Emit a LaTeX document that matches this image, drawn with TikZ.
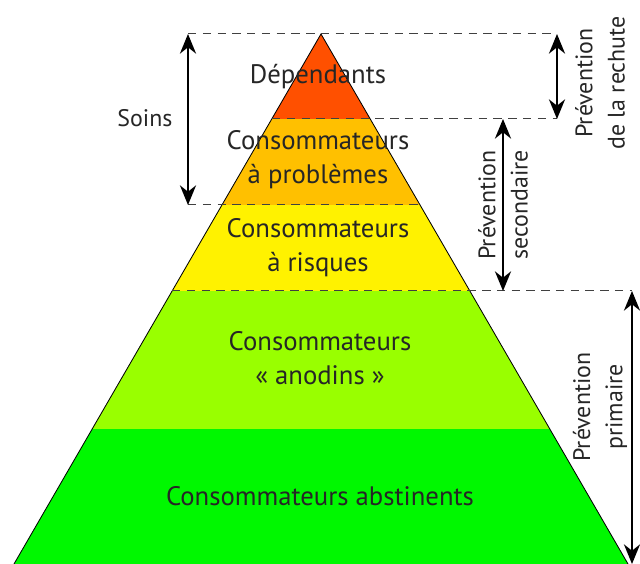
\documentclass[tikz,border=0pt]{standalone}
\usepackage{fontspec}
\setmainfont{PT Sans}
\usetikzlibrary{arrows.meta}
\definecolor{dependants}{HTML}{FF5000}
\definecolor{problemes}{HTML}{FFC000}
\definecolor{risques}{HTML}{FFF200}
\definecolor{anodins}{HTML}{99FF00}
\definecolor{abstinents}{HTML}{00F800}
\begin{document}
\begin{tikzpicture}[x=0.025cm, y=0.025cm,
    sep/.style={dash pattern=on 6pt off 4.5pt, line width=0.7pt, black!75},
    span/.style={{Stealth[length=14pt,width=11.5pt]}-{Stealth[length=14pt,width=11.5pt]}, line width=1.3pt},
    layer/.style={font=\fontsize{19}{24}\selectfont, align=center, text=black!85},
    side/.style={font=\fontsize{17}{23}\selectfont, align=center, rotate=90, text=black!85}]
    \useasboundingbox (0,0) rectangle (640,564);

    % pyramide
    \coordinate (sommet) at (321,530);
    \coordinate (baseG) at (14,0);
    \coordinate (baseD) at (628,0);
    \begin{scope}
        \clip (sommet) -- (baseD) -- (baseG) -- cycle;
        \fill[abstinents] (0,0) rectangle (640,135);
        \fill[anodins] (0,135) rectangle (640,273);
        \fill[risques] (0,273) rectangle (640,359);
        \fill[problemes] (0,359) rectangle (640,445);
        \fill[dependants] (0,445) rectangle (640,540);
    \end{scope}
    \draw[line width=0.6pt] (baseG) -- (sommet) -- (baseD);

    % niveaux
    \node[layer] (dep) at (318,487) {Dépendants};
    \node[layer] (pb) at (318,404) {Consommateurs\\à problèmes};
    \node[layer] (risq) at (318,316) {Consommateurs\\à risques};
    \node[layer] (anod) at (320,206) {Consommateurs\\«~anodins~»};
    \node[layer] (abst) at (320,68) {Consommateurs abstinents};

    % limites
    \coordinate (l1g) at (188,530); \coordinate (l1d) at (557,530);
    \coordinate (l2g) at (272,445); \coordinate (l2d) at (557,445);
    \coordinate (l2s) at (503,445);
    \coordinate (l3g) at (188,359); \coordinate (l3d) at (420,359);
    \coordinate (l4g) at (172,273); \coordinate (l4d) at (632,273);
    \coordinate (l4s) at (503,273);
    \coordinate (bas) at (632,0);
    \draw[sep] (l1g) -- (l1d);
    \draw[sep] (l2g) -- (l2d);
    \draw[sep] (l3g) -- (l3d);
    \draw[sep] (l4g) -- (l4d);

    % fleches
    \draw[span] (l1g) -- (l3g);
    \draw[span] (l1d) -- (l2d);
    \draw[span] (l2s) -- (l4s);
    \draw[span] (l4d) -- (bas);

    \node[layer, font=\fontsize{17}{23}\selectfont] (soins) at (145,446) {Soins};
    \node[side] (rechute) at (600,481) {Prévention\\de la rechute};
    \node[side] (second) at (503,359) {Prévention\\secondaire};
    \node[side] (prim) at (600,157) {Prévention\\primaire};
\end{tikzpicture}
\end{document}
